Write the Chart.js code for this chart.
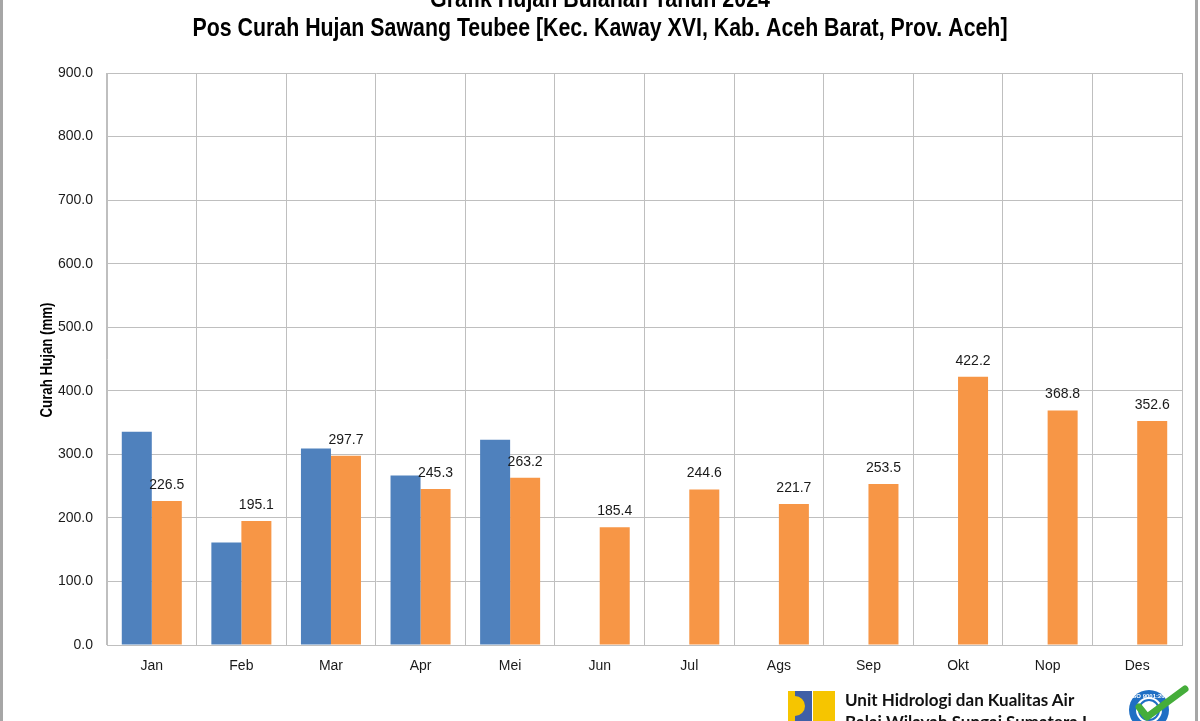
<!DOCTYPE html>
<html>
<head>
<meta charset="utf-8">
<script src="https://cdn.jsdelivr.net/npm/chart.js@4.4.1/dist/chart.umd.min.js"></script>
<style>
html, body { margin: 0; padding: 0; background: #fff; }
#wrap { position: relative; width: 1200px; height: 721px; overflow: hidden; background: #fff; }
#chart { position: absolute; left: 0; top: 0; }
.edge { position: absolute; top: 0; width: 3px; height: 721px; background: #a6a6a6; }
#footer { position: absolute; left: 845px; top: 689px; font-family: Lato, "Open Sans", sans-serif; font-weight: bold; font-size: 17px; line-height: 22px; color: #111; white-space: nowrap; }
#logo { position: absolute; left: 788px; top: 691px; }
#iso { position: absolute; left: 1120px; top: 680px; }
</style>
</head>
<body>
<div id="wrap">
  <canvas id="chart" width="1200" height="721"></canvas>
  <div class="edge" style="left:0"></div>
  <div class="edge" style="left:1195px"></div>
  <svg id="logo" width="48" height="30">
    <rect x="0" y="0" width="7" height="30" fill="#f6c500"/>
    <rect x="7" y="0" width="17" height="30" fill="#3f5fa6"/>
    <path d="M7 5 A10 10 0 0 1 7 25 Z" fill="#f6c500"/>
    <rect x="25" y="0" width="22" height="30" fill="#f6c500"/>
  </svg>
  <div id="footer">Unit Hidrologi dan Kualitas Air<br>Balai Wilayah Sungai Sumatera I</div>
  <svg id="iso" width="80" height="41">
    <circle cx="29" cy="30" r="20" fill="#1f6fc4"/>
    <circle cx="29" cy="30" r="13" fill="#fff"/>
    <circle cx="29" cy="30" r="10" fill="none" stroke="#1f6fc4" stroke-width="2"/>
    <text x="31" y="18" font-size="6" fill="#fff" text-anchor="middle" font-family="Liberation Sans" font-weight="bold">ISO 9001:2008</text>
    <polyline points="19,27 27,37 65,9" fill="none" stroke="#45ad3a" stroke-width="7" stroke-linecap="round" stroke-linejoin="round"/>
  </svg>
</div>
<script>
// data
var months = ['Jan', 'Feb', 'Mar', 'Apr', 'Mei', 'Jun', 'Jul', 'Ags', 'Sep', 'Okt', 'Nop', 'Des'];
var hujanRerata = [335.4, 161.3, 309.3, 266.8, 322.8, null, null, null, null, null, null, null];
var hujan2024 = [226.5, 195.1, 297.7, 245.3, 263.2, 185.4, 244.6, 221.7, 253.5, 422.2, 368.8, 352.6];
var titleLines = ['Grafik Hujan Bulanan Tahun 2024',
    'Pos Curah Hujan Sawang Teubee [Kec. Kaway XVI, Kab. Aceh Barat, Prov. Aceh]'];
var yTitle = 'Curah Hujan (mm)';

var gridColor = '#bfbfbf';
var tickFont = {family: 'Liberation Sans, Arial, sans-serif', size: 14};

// narrow bold text (Arial Narrow look): squeeze the normal face to a given width
function narrowText(ctx, text, x, y, size, width, rotate) {
    ctx.save();
    ctx.font = 'bold ' + size + 'px "Liberation Sans", Arial, sans-serif';
    ctx.fillStyle = '#000';
    ctx.textAlign = 'center';
    ctx.textBaseline = 'alphabetic';
    var squeeze = width / ctx.measureText(text).width;
    ctx.translate(x, y);
    if (rotate) ctx.rotate(-Math.PI / 2);
    ctx.scale(squeeze, 1);
    ctx.fillText(text, 0, 0);
    ctx.restore();
}

var decor = {
    id: 'decor',
    afterDraw: function (chart) {
        var ctx = chart.ctx;
        // first line is cut by the top edge, as in the source picture
        narrowText(ctx, titleLines[0], 600, 6.5, 25, 340);
        narrowText(ctx, titleLines[1], 600, 36, 25, 815);
        narrowText(ctx, yTitle, 52, 360, 16, 115, true);

        // value labels above the 2024 bars
        var meta = chart.getDatasetMeta(1);
        ctx.save();
        ctx.font = '14px "Liberation Sans", Arial, sans-serif';
        ctx.fillStyle = '#1a1a1a';
        ctx.textAlign = 'center';
        ctx.textBaseline = 'middle';
        meta.data.forEach(function (bar, i) {
            var v = hujan2024[i];
            if (v === null) return;
            ctx.fillText(v.toFixed(1), bar.x, bar.y - 16);
        });
        ctx.restore();
    }
};

var ctx = document.getElementById('chart').getContext('2d');
var chart = new Chart(ctx, {
    type: 'bar',
    data: {
        labels: months,
        datasets: [{
            label: 'Rerata',
            data: hujanRerata,
            backgroundColor: '#4f81bd',
            categoryPercentage: 0.67,
            barPercentage: 1.0
        }, {
            label: '2024',
            data: hujan2024,
            backgroundColor: '#f79646',
            categoryPercentage: 0.67,
            barPercentage: 1.0
        }]
    },
    options: {
        responsive: false,
        animation: false,
        devicePixelRatio: 1,
        layout: {padding: {top: 73, right: 18, left: 0, bottom: 0}},
        plugins: {
            legend: {display: false},
            tooltip: {enabled: false}
        },
        scales: {
            x: {
                grid: {offset: true, color: gridColor, drawTicks: false},
                border: {color: gridColor},
                ticks: {color: '#1a1a1a', font: tickFont, padding: 13},
                afterFit: function (s) { s.height = 76; }
            },
            y: {
                min: 0,
                max: 900,
                grid: {color: gridColor, drawTicks: false},
                border: {color: gridColor},
                ticks: {
                    stepSize: 100,
                    color: '#1a1a1a',
                    font: tickFont,
                    padding: 14,
                    callback: function (v) { return v.toFixed(1); }
                },
                afterFit: function (s) { s.width = 107; }
            }
        }
    },
    plugins: [decor]
});
</script>
</body>
</html>
